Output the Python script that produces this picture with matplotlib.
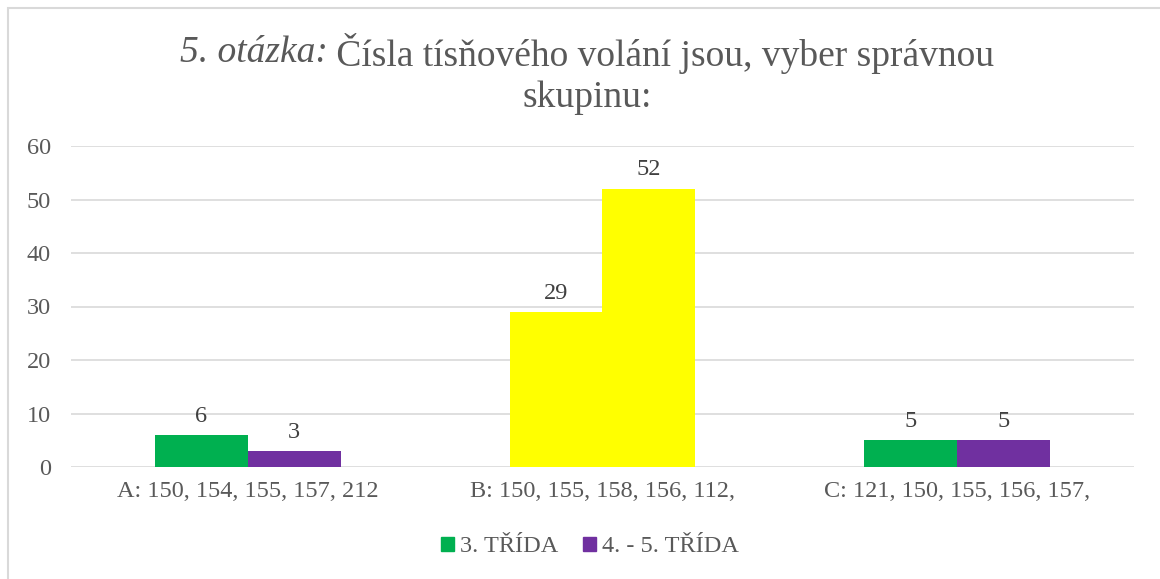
import matplotlib
matplotlib.use("Agg")
import matplotlib.pyplot as plt
import numpy as np
from matplotlib.patches import Patch, Rectangle

categories = ["A: 150, 154, 155, 157, 212", "B: 150, 155, 158, 156, 112,", "C: 121, 150, 155, 156, 157,"]
series_names = ["3. TŘÍDA", "4. - 5. TŘÍDA"]
trida3 = [6, 29, 5]
trida45 = [3, 52, 5]
yticks = [0, 10, 20, 30, 40, 50, 60]

GREEN = "#00B050"
PURPLE = "#7030A0"
YELLOW = "#FFFF00"
TXT = "#595959"
GRID = "#D9D9D9"

plt.rcParams['font.family'] = ['Liberation Serif', 'DejaVu Serif']

fig = plt.figure(figsize=(11.6, 5.79), dpi=100)
ax = fig.add_axes([70.5/1160, (579-467)/579, (1134.5-70.5)/1160, (467-146)/579])

FS = 17.5
x = np.arange(len(categories))
w = 0.262
c1 = [GREEN, YELLOW, GREEN]
c2 = [PURPLE, YELLOW, PURPLE]
b1 = ax.bar(x - w/2, trida3, w, color=c1, zorder=3)
b2 = ax.bar(x + w/2, trida45, w, color=c2, zorder=3)

for bars, vals in ((b1, trida3), (b2, trida45)):
    for r, v in zip(bars, vals):
        ax.annotate(str(v), (r.get_x() + r.get_width()/2, v), xytext=(0, 6),
                    textcoords="offset points", ha="center", va="bottom",
                    fontsize=FS, color="#404040")

ax.set_xlim(-0.5, 2.5)
ax.set_ylim(0, 60)
ax.set_yticks(yticks)
ax.set_xticks(x)
ax.set_xticklabels(categories)
ax.tick_params(axis='both', length=0, labelsize=FS, labelcolor=TXT)
ax.tick_params(axis='y', pad=14)
ax.tick_params(axis='x', pad=10)
ax.yaxis.grid(True, color=GRID, linewidth=1.2, zorder=0)
for s in ax.spines.values():
    s.set_visible(False)

# Title with mixed italic
fig.canvas.draw()
r = fig.canvas.get_renderer()
tsize = 27
y1 = 1 - 53/579
t_it = fig.text(0, y1, "5. otázka:", fontsize=tsize, style='italic', color=TXT, va='center', ha='left')
t_rg = fig.text(0, y1, " Čísla tísňového volání jsou, vyber správnou", fontsize=tsize, color=TXT, va='center', ha='left')
w_it = t_it.get_window_extent(r).width
w_rg = t_rg.get_window_extent(r).width
total = w_it + w_rg
cx = 587
start = cx - total/2
t_it.set_x(start/1160)
t_rg.set_x((start + w_it)/1160)
fig.text(cx/1160, 1 - 98/579, "skupinu:", fontsize=tsize, color=TXT, va='center', ha='center')

handles = [Patch(color=GREEN), Patch(color=PURPLE)]
fig.legend(handles, series_names, loc='center', bbox_to_anchor=(590/1160, 1 - 547/579),
           ncol=2, frameon=False, fontsize=FS, handlelength=0.55, handleheight=0.55,
           handletextpad=0.25, columnspacing=1.0, labelcolor=TXT)

fig.patches.append(Rectangle((8/1160, -0.1), 1.2, 1.1 - 8/579, transform=fig.transFigure,
                             fill=False, edgecolor=GRID, linewidth=1.5))

fig.savefig("out.png", dpi=100)
